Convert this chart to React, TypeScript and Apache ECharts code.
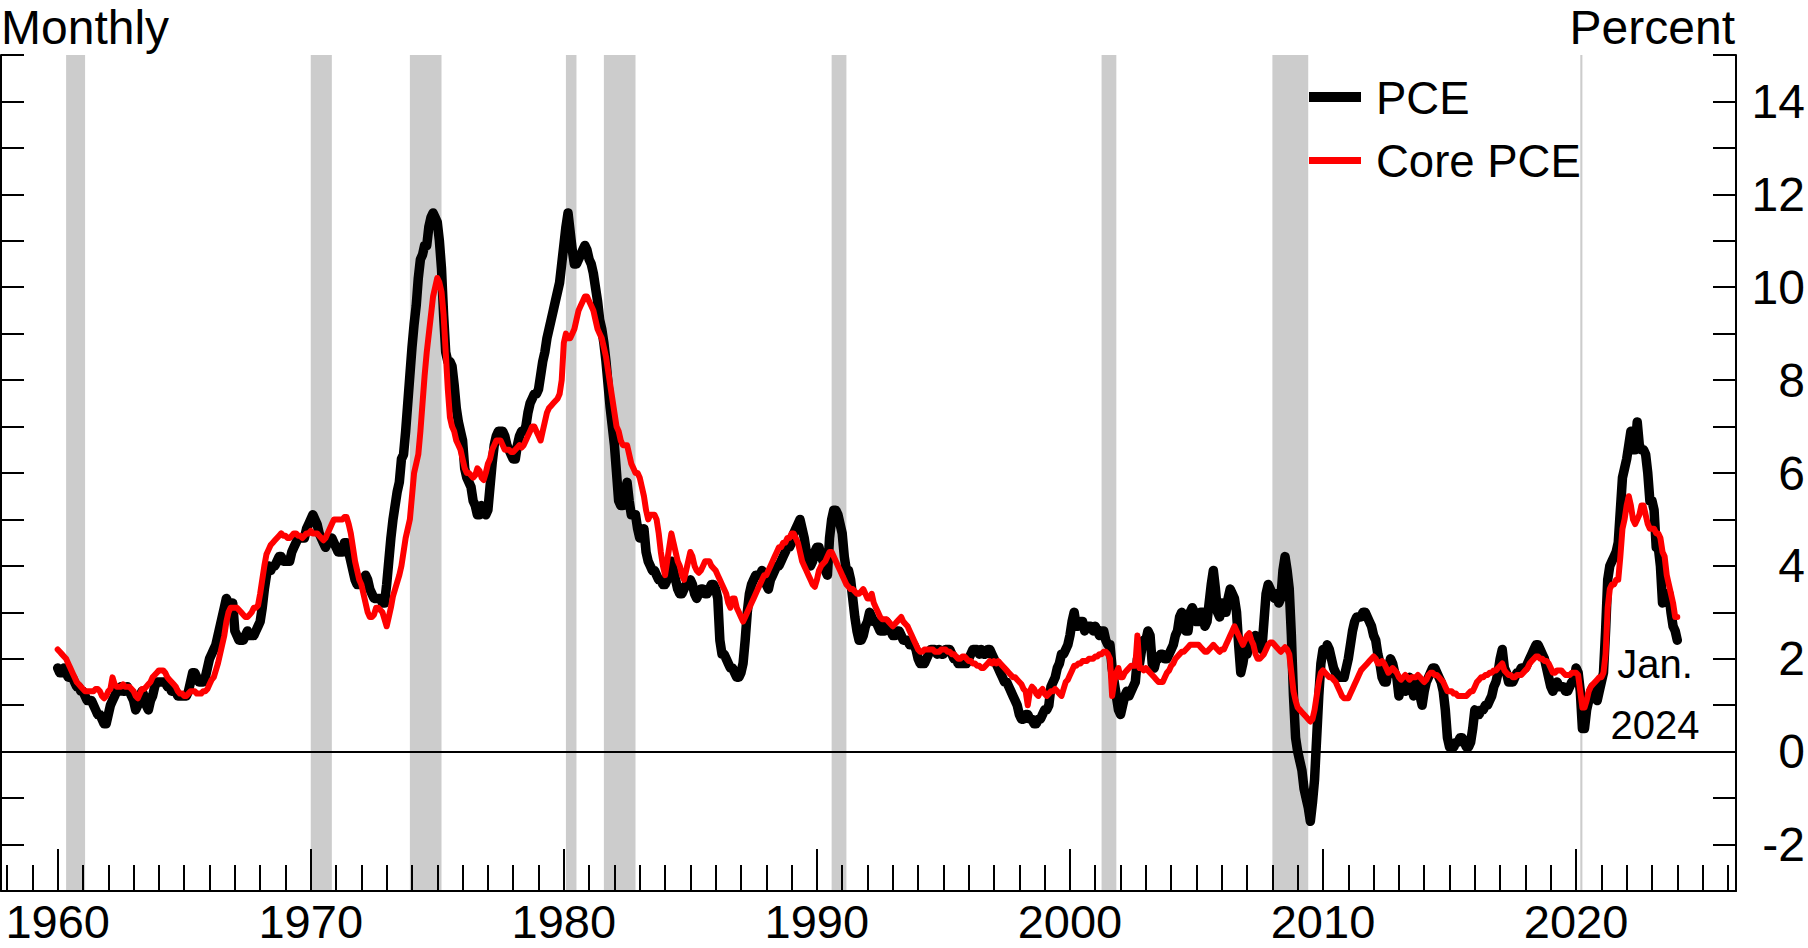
import React, { useEffect, useRef } from 'react';
import * as echarts from 'echarts';

const FONT = "'Liberation Sans', Arial, Helvetica, sans-serif";

// ---- axis settings ----
const X_MIN = 1957.76;
const X_MAX = 2026.32;
const Y_MIN = -3;
const Y_MAX = 15;
const START_YEAR = 1960; // first monthly observation: Jan. 1960
const decadeTicks = [1960, 1970, 1980, 1990, 2000, 2010, 2020];
const yearTicks = Array.from({ length: 69 }, (_, i) => 1958 + i);
const rightLabels = [-2, 0, 2, 4, 6, 8, 10, 12, 14];

// ---- NBER recessions (shaded), decimal years ----
const recessions: [number, number][] = [
  [1960.333, 1961.083],
  [1970.0, 1970.833],
  [1973.917, 1975.167],
  [1980.083, 1980.5],
  [1981.583, 1982.833],
  [1990.583, 1991.167],
  [2001.25, 2001.833],
  [2008.0, 2009.417],
  [2020.167, 2020.25],
];

// ---- PCE price index, 12-month percent change, monthly Jan. 1960 - Jan. 2024 ----
const pce: number[] = [
  1.8, 1.7, 1.7, 1.8, 1.7, 1.6, 1.6, 1.6, 1.5, 1.4, 1.4, 1.3, // 1960
  1.3, 1.2, 1.1, 1.1, 1.1, 1.0, 0.9, 0.8, 0.8, 0.7, 0.6, 0.6, // 1961
  0.8, 1.0, 1.1, 1.2, 1.3, 1.3, 1.4, 1.3, 1.3, 1.4, 1.3, 1.2, // 1962
  1.1, 0.9, 1.0, 1.2, 1.3, 1.2, 1.0, 0.9, 1.1, 1.2, 1.4, 1.5, // 1963
  1.5, 1.5, 1.5, 1.5, 1.4, 1.4, 1.3, 1.3, 1.3, 1.2, 1.2, 1.2, // 1964
  1.2, 1.2, 1.3, 1.5, 1.7, 1.7, 1.6, 1.5, 1.5, 1.5, 1.6, 1.8, // 1965
  2.0, 2.1, 2.2, 2.3, 2.5, 2.7, 2.9, 3.1, 3.3, 3.2, 3.1, 3.2, // 1966
  2.6, 2.5, 2.4, 2.4, 2.4, 2.5, 2.6, 2.5, 2.5, 2.5, 2.6, 2.7, // 1967
  2.8, 3.1, 3.5, 3.8, 4.0, 3.9, 4.0, 4.0, 4.1, 4.2, 4.2, 4.1, // 1968
  4.1, 4.1, 4.1, 4.3, 4.4, 4.5, 4.6, 4.6, 4.6, 4.6, 4.8, 4.9, // 1969
  5.0, 5.1, 5.0, 4.9, 4.7, 4.6, 4.5, 4.4, 4.5, 4.5, 4.6, 4.5, // 1970
  4.4, 4.3, 4.3, 4.3, 4.5, 4.5, 4.3, 4.1, 3.9, 3.7, 3.6, 3.6, // 1971
  3.7, 3.7, 3.8, 3.7, 3.5, 3.4, 3.3, 3.3, 3.3, 3.3, 3.2, 3.2, // 1972
  3.6, 4.1, 4.6, 5.0, 5.3, 5.6, 5.8, 6.3, 6.4, 6.9, 7.5, 8.1, // 1973
  8.7, 9.2, 9.6, 10.2, 10.6, 10.7, 10.9, 10.9, 11.3, 11.5, 11.6, 11.5, // 1974
  11.4, 11.0, 10.4, 9.4, 8.6, 8.4, 8.4, 8.3, 7.9, 7.4, 7.1, 6.9, // 1975
  6.7, 6.1, 5.9, 5.8, 5.7, 5.4, 5.3, 5.1, 5.1, 5.3, 5.2, 5.1, // 1976
  5.2, 5.7, 6.2, 6.6, 6.8, 6.9, 6.9, 6.9, 6.8, 6.6, 6.5, 6.4, // 1977
  6.3, 6.3, 6.6, 6.8, 6.9, 6.9, 7.0, 7.3, 7.5, 7.6, 7.7, 7.7, // 1978
  7.8, 8.1, 8.4, 8.6, 8.9, 9.1, 9.3, 9.5, 9.7, 9.9, 10.1, 10.5, // 1979
  10.9, 11.3, 11.6, 11.2, 10.8, 10.5, 10.5, 10.6, 10.7, 10.8, 10.9, 10.8, // 1980
  10.6, 10.5, 10.3, 10.0, 9.7, 9.3, 9.1, 8.8, 8.4, 7.9, 7.4, 7.0, // 1981
  6.6, 6.0, 5.4, 5.3, 5.3, 5.6, 5.8, 5.4, 5.1, 5.1, 5.1, 4.8, // 1982
  4.6, 4.7, 4.8, 4.3, 4.1, 4.0, 3.9, 3.9, 3.8, 3.7, 3.7, 3.6, // 1983
  3.6, 3.7, 3.9, 4.1, 3.9, 3.7, 3.5, 3.4, 3.4, 3.5, 3.6, 3.6, // 1984
  3.7, 3.6, 3.4, 3.3, 3.4, 3.5, 3.5, 3.4, 3.4, 3.5, 3.6, 3.6, // 1985
  3.5, 3.3, 2.4, 2.1, 2.1, 2.0, 1.9, 1.8, 1.8, 1.7, 1.6, 1.6, // 1986
  1.7, 1.9, 2.4, 3.0, 3.4, 3.6, 3.7, 3.8, 3.8, 3.8, 3.9, 3.8, // 1987
  3.6, 3.5, 3.7, 3.8, 3.9, 4.0, 4.0, 4.1, 4.2, 4.3, 4.4, 4.4, // 1988
  4.5, 4.7, 4.8, 4.9, 5.0, 4.8, 4.6, 4.3, 4.1, 4.0, 4.1, 4.3, // 1989
  4.4, 4.4, 4.2, 4.1, 3.9, 3.8, 4.6, 5.0, 5.2, 5.2, 5.1, 4.9, // 1990
  4.7, 4.2, 3.9, 3.9, 3.7, 3.3, 2.9, 2.6, 2.4, 2.4, 2.5, 2.7, // 1991
  2.8, 3.0, 2.9, 2.8, 2.8, 2.7, 2.6, 2.6, 2.6, 2.8, 2.7, 2.6, // 1992
  2.5, 2.5, 2.6, 2.6, 2.5, 2.4, 2.4, 2.4, 2.3, 2.3, 2.3, 2.2, // 1993
  2.0, 1.9, 1.9, 1.9, 2.0, 2.1, 2.2, 2.2, 2.2, 2.1, 2.2, 2.1, // 1994
  2.1, 2.2, 2.2, 2.2, 2.1, 2.0, 2.0, 1.9, 1.9, 1.9, 1.9, 1.9, // 1995
  2.0, 2.1, 2.2, 2.2, 2.2, 2.1, 2.2, 2.1, 2.1, 2.2, 2.2, 2.1, // 1996
  2.0, 1.9, 1.8, 1.7, 1.6, 1.5, 1.5, 1.4, 1.3, 1.2, 1.1, 1.0, // 1997
  0.8, 0.7, 0.7, 0.8, 0.8, 0.7, 0.7, 0.6, 0.6, 0.7, 0.7, 0.8, // 1998
  0.9, 0.9, 1.0, 1.4, 1.5, 1.6, 1.8, 1.9, 2.1, 2.1, 2.2, 2.3, // 1999
  2.5, 2.8, 3.0, 2.7, 2.7, 2.8, 2.8, 2.6, 2.7, 2.7, 2.7, 2.6, // 2000
  2.7, 2.6, 2.5, 2.6, 2.6, 2.4, 2.3, 2.3, 1.8, 1.5, 1.2, 0.9, // 2001
  0.8, 1.0, 1.2, 1.3, 1.2, 1.3, 1.4, 1.5, 2.0, 1.9, 2.2, 2.4, // 2002
  2.4, 2.6, 2.5, 1.9, 1.8, 2.0, 2.0, 2.1, 2.1, 2.0, 2.0, 2.1, // 2003
  2.2, 2.3, 2.5, 2.6, 2.9, 3.0, 2.8, 2.6, 2.6, 3.0, 3.1, 3.0, // 2004
  2.8, 2.8, 3.0, 3.0, 2.7, 2.8, 3.2, 3.6, 3.9, 3.5, 3.0, 2.9, // 2005
  3.2, 3.0, 3.0, 3.3, 3.5, 3.4, 3.3, 3.0, 2.3, 1.7, 1.9, 2.2, // 2006
  2.1, 2.3, 2.3, 2.4, 2.5, 2.4, 2.3, 2.2, 2.8, 3.4, 3.6, 3.5, // 2007
  3.4, 3.3, 3.4, 3.2, 3.3, 3.9, 4.2, 3.9, 3.5, 2.5, 1.2, 0.3, // 2008
  0.0, -0.2, -0.4, -0.8, -1.0, -1.2, -1.5, -1.1, -0.6, 0.3, 1.2, 1.9, // 2009
  2.2, 2.1, 2.3, 2.2, 2.0, 1.8, 1.7, 1.6, 1.6, 1.6, 1.6, 1.8, // 2010
  2.0, 2.3, 2.6, 2.8, 2.9, 2.9, 2.9, 3.0, 3.0, 2.9, 2.8, 2.7, // 2011
  2.5, 2.4, 2.1, 1.9, 1.6, 1.5, 1.5, 1.8, 2.0, 1.9, 1.7, 1.6, // 2012
  1.2, 1.4, 1.5, 1.3, 1.5, 1.6, 1.4, 1.2, 1.4, 1.5, 1.2, 1.0, // 2013
  1.3, 1.5, 1.6, 1.7, 1.8, 1.8, 1.7, 1.6, 1.5, 1.3, 0.9, 0.3, // 2014
  0.1, 0.1, 0.1, 0.2, 0.2, 0.3, 0.3, 0.2, 0.1, 0.1, 0.2, 0.5, // 2015
  0.9, 0.8, 0.8, 0.9, 0.9, 1.0, 1.0, 1.1, 1.2, 1.4, 1.5, 1.7, // 2016
  2.0, 2.2, 1.8, 1.7, 1.5, 1.5, 1.5, 1.6, 1.7, 1.7, 1.8, 1.8, // 2017
  1.8, 1.9, 2.0, 2.1, 2.2, 2.3, 2.3, 2.2, 2.1, 2.0, 1.8, 1.6, // 2018
  1.4, 1.3, 1.4, 1.5, 1.4, 1.4, 1.4, 1.3, 1.3, 1.4, 1.5, 1.5, // 2019
  1.8, 1.7, 1.3, 0.5, 0.5, 0.9, 1.1, 1.3, 1.4, 1.2, 1.1, 1.3, // 2020
  1.5, 1.7, 2.6, 3.7, 4.0, 4.1, 4.2, 4.3, 4.5, 5.2, 5.9, 6.1, // 2021
  6.3, 6.6, 6.9, 6.5, 6.5, 7.1, 6.6, 6.5, 6.5, 6.4, 6.0, 5.4, // 2022
  5.4, 5.2, 4.4, 4.4, 4.0, 3.2, 3.3, 3.4, 3.4, 3.0, 2.7, 2.6, // 2023
  2.4, // 2024
];

// ---- Core PCE (excluding food and energy), 12-month percent change ----
const corePce: number[] = [
  2.2, 2.15, 2.1, 2.05, 2.0, 1.9, 1.8, 1.7, 1.6, 1.5, 1.45, 1.4, // 1960
  1.35, 1.3, 1.3, 1.3, 1.3, 1.3, 1.35, 1.35, 1.3, 1.2, 1.15, 1.2, // 1961
  1.3, 1.35, 1.6, 1.45, 1.4, 1.4, 1.4, 1.45, 1.4, 1.4, 1.4, 1.35, // 1962
  1.3, 1.2, 1.15, 1.25, 1.35, 1.35, 1.4, 1.45, 1.5, 1.6, 1.65, 1.7, // 1963
  1.75, 1.75, 1.75, 1.7, 1.6, 1.55, 1.5, 1.45, 1.4, 1.3, 1.25, 1.25, // 1964
  1.2, 1.2, 1.25, 1.3, 1.3, 1.3, 1.25, 1.25, 1.25, 1.3, 1.3, 1.35, // 1965
  1.45, 1.55, 1.6, 1.75, 1.9, 2.1, 2.3, 2.5, 2.8, 3.0, 3.1, 3.1, // 1966
  3.1, 3.1, 3.05, 3.0, 2.95, 2.9, 2.9, 2.95, 3.0, 3.1, 3.1, 3.15, // 1967
  3.4, 3.7, 4.0, 4.25, 4.35, 4.45, 4.5, 4.55, 4.6, 4.65, 4.7, 4.65, // 1968
  4.65, 4.6, 4.6, 4.65, 4.7, 4.7, 4.65, 4.65, 4.6, 4.65, 4.7, 4.7, // 1969
  4.75, 4.7, 4.7, 4.7, 4.65, 4.6, 4.55, 4.6, 4.7, 4.8, 4.9, 5.0, // 1970
  5.0, 5.0, 5.0, 5.0, 5.05, 5.05, 4.9, 4.7, 4.4, 4.1, 3.9, 3.7, // 1971
  3.6, 3.4, 3.2, 3.0, 2.9, 2.9, 2.95, 3.1, 3.1, 3.05, 3.0, 2.85, // 1972
  2.7, 2.9, 3.1, 3.35, 3.5, 3.65, 3.8, 4.0, 4.3, 4.6, 4.8, 5.0, // 1973
  5.5, 6.0, 6.2, 6.4, 6.9, 7.5, 8.1, 8.6, 9.0, 9.4, 9.8, 10.0, // 1974
  10.2, 10.1, 9.9, 9.4, 8.6, 7.8, 7.2, 7.0, 6.9, 6.7, 6.6, 6.5, // 1975
  6.3, 6.1, 6.0, 6.0, 5.95, 5.9, 5.95, 6.1, 6.05, 5.9, 5.85, 6.0, // 1976
  6.2, 6.3, 6.5, 6.6, 6.7, 6.7, 6.7, 6.6, 6.5, 6.5, 6.5, 6.45, // 1977
  6.45, 6.5, 6.55, 6.6, 6.55, 6.6, 6.7, 6.8, 6.9, 7.0, 7.0, 6.9, // 1978
  6.8, 6.7, 6.9, 7.1, 7.3, 7.4, 7.45, 7.5, 7.55, 7.6, 7.7, 8.0, // 1979
  8.8, 9.0, 8.9, 8.9, 9.0, 9.1, 9.3, 9.5, 9.6, 9.7, 9.8, 9.8, // 1980
  9.7, 9.6, 9.5, 9.3, 9.1, 9.0, 8.9, 8.7, 8.5, 8.2, 7.9, 7.6, // 1981
  7.3, 7.0, 6.9, 6.7, 6.6, 6.6, 6.6, 6.4, 6.2, 6.1, 6.0, 6.0, // 1982
  5.9, 5.7, 5.5, 5.2, 5.0, 5.1, 5.1, 5.1, 5.0, 4.7, 4.3, 4.0, // 1983
  3.8, 4.1, 4.4, 4.7, 4.5, 4.3, 4.1, 4.0, 3.8, 3.7, 3.9, 4.1, // 1984
  4.3, 4.2, 4.0, 3.9, 3.85, 3.9, 4.0, 4.1, 4.1, 4.1, 4.0, 3.95, // 1985
  3.9, 3.8, 3.7, 3.6, 3.5, 3.4, 3.2, 3.1, 3.3, 3.3, 3.1, 3.0, // 1986
  2.9, 2.8, 2.9, 3.0, 3.1, 3.2, 3.3, 3.4, 3.5, 3.6, 3.7, 3.8, // 1987
  3.8, 3.9, 4.0, 4.1, 4.2, 4.3, 4.4, 4.4, 4.5, 4.5, 4.6, 4.6, // 1988
  4.7, 4.7, 4.6, 4.5, 4.3, 4.1, 4.0, 3.9, 3.8, 3.7, 3.6, 3.55, // 1989
  3.7, 3.9, 4.0, 4.05, 4.1, 4.2, 4.3, 4.3, 4.2, 4.1, 4.0, 3.9, // 1990
  3.8, 3.7, 3.6, 3.55, 3.5, 3.5, 3.45, 3.4, 3.4, 3.45, 3.5, 3.4, // 1991
  3.3, 3.3, 3.4, 3.2, 3.1, 3.0, 2.9, 2.85, 2.85, 2.85, 2.8, 2.75, // 1992
  2.7, 2.75, 2.8, 2.85, 2.9, 2.8, 2.75, 2.7, 2.6, 2.5, 2.4, 2.3, // 1993
  2.2, 2.15, 2.15, 2.2, 2.2, 2.2, 2.2, 2.2, 2.15, 2.15, 2.15, 2.2, // 1994
  2.2, 2.2, 2.15, 2.15, 2.1, 2.1, 2.05, 2.0, 2.0, 2.05, 2.05, 2.0, // 1995
  1.95, 1.95, 1.9, 1.9, 1.85, 1.85, 1.8, 1.8, 1.85, 1.9, 1.95, 1.9, // 1996
  1.95, 1.9, 1.95, 1.9, 1.85, 1.8, 1.75, 1.7, 1.65, 1.6, 1.6, 1.55, // 1997
  1.5, 1.45, 1.35, 1.3, 1.0, 1.3, 1.4, 1.35, 1.25, 1.2, 1.3, 1.35, // 1998
  1.25, 1.2, 1.25, 1.3, 1.3, 1.35, 1.3, 1.25, 1.2, 1.35, 1.5, 1.55, // 1999
  1.65, 1.75, 1.85, 1.85, 1.9, 1.9, 1.95, 1.95, 1.95, 2.0, 2.0, 2.0, // 2000
  2.05, 2.05, 2.1, 2.1, 2.15, 2.15, 2.1, 2.0, 1.2, 1.5, 1.7, 1.8, // 2001
  1.6, 1.6, 1.7, 1.75, 1.8, 1.85, 1.85, 1.85, 2.5, 1.8, 1.8, 1.75, // 2002
  1.8, 1.75, 1.7, 1.65, 1.6, 1.55, 1.5, 1.5, 1.5, 1.6, 1.7, 1.75, // 2003
  1.85, 1.9, 2.0, 2.05, 2.1, 2.15, 2.15, 2.2, 2.25, 2.3, 2.3, 2.3, // 2004
  2.3, 2.3, 2.25, 2.2, 2.15, 2.15, 2.2, 2.25, 2.3, 2.25, 2.2, 2.15, // 2005
  2.2, 2.2, 2.3, 2.4, 2.5, 2.6, 2.7, 2.6, 2.5, 2.4, 2.3, 2.4, // 2006
  2.5, 2.55, 2.4, 2.3, 2.1, 2.0, 2.0, 2.05, 2.1, 2.2, 2.3, 2.35, // 2007
  2.35, 2.3, 2.25, 2.2, 2.15, 2.2, 2.25, 2.2, 2.1, 1.7, 1.3, 1.1, // 2008
  0.95, 0.9, 0.85, 0.8, 0.75, 0.7, 0.65, 0.7, 0.9, 1.2, 1.5, 1.7, // 2009
  1.75, 1.7, 1.65, 1.6, 1.6, 1.55, 1.5, 1.4, 1.3, 1.2, 1.15, 1.15, // 2010
  1.15, 1.25, 1.35, 1.45, 1.55, 1.65, 1.75, 1.8, 1.85, 1.9, 1.95, 2.0, // 2011
  2.05, 2.0, 1.9, 1.9, 1.95, 1.9, 1.8, 1.7, 1.75, 1.8, 1.75, 1.7, // 2012
  1.6, 1.55, 1.6, 1.65, 1.6, 1.55, 1.6, 1.6, 1.6, 1.65, 1.6, 1.55, // 2013
  1.5, 1.55, 1.65, 1.7, 1.7, 1.65, 1.65, 1.6, 1.55, 1.5, 1.4, 1.3, // 2014
  1.3, 1.3, 1.25, 1.25, 1.2, 1.2, 1.2, 1.2, 1.2, 1.25, 1.3, 1.3, // 2015
  1.4, 1.5, 1.55, 1.6, 1.6, 1.65, 1.65, 1.7, 1.7, 1.75, 1.75, 1.8, // 2016
  1.85, 1.9, 1.75, 1.7, 1.65, 1.65, 1.6, 1.6, 1.65, 1.65, 1.65, 1.7, // 2017
  1.75, 1.8, 1.9, 1.95, 2.0, 2.05, 2.05, 2.0, 2.0, 1.95, 1.95, 1.9, // 2018
  1.8, 1.7, 1.7, 1.75, 1.75, 1.75, 1.7, 1.65, 1.65, 1.65, 1.7, 1.7, // 2019
  1.7, 1.65, 1.3, 0.95, 0.95, 1.1, 1.3, 1.4, 1.45, 1.5, 1.55, 1.6, // 2020
  1.6, 1.7, 2.1, 3.1, 3.5, 3.6, 3.6, 3.7, 3.7, 4.2, 4.8, 5.0, // 2021
  5.3, 5.5, 5.3, 5.0, 4.9, 5.0, 5.1, 5.3, 5.3, 5.1, 4.9, 4.8, // 2022
  4.8, 4.8, 4.7, 4.7, 4.6, 4.3, 4.2, 3.8, 3.6, 3.4, 3.2, 2.9, // 2023
  2.9, // 2024
];

const toPoints = (vals: number[]) => vals.map((v, i) => [START_YEAR + i / 12, v]);

const txt = (text: string, x: number, y: number, size: number, align: string) => ({
  type: 'text',
  x,
  y,
  z: 100,
  silent: true,
  style: {
    text,
    fill: '#000',
    font: `${size}px ${FONT}`,
    fontSize: size,
    fontFamily: FONT,
    textAlign: align,
    align,
    textVerticalAlign: 'middle',
    verticalAlign: 'middle',
  },
});

export default function App() {
  const ref = useRef<HTMLDivElement>(null);
  useEffect(() => {
    if (!ref.current) return;
    const chart = echarts.init(ref.current, undefined, { renderer: 'svg' });
    const axisLineStyle = { color: '#000', width: 2 };
    const option: any = {
      animation: false,
      backgroundColor: '#fff',
      grid: { left: 1, right: 72, top: 55, bottom: 57, containLabel: false },
      xAxis: [
        {
          type: 'value', min: X_MIN, max: X_MAX, position: 'bottom', z: 10,
          axisLine: { show: true, onZero: false, lineStyle: axisLineStyle },
          axisTick: { show: true, inside: true, length: 42, customValues: decadeTicks, lineStyle: axisLineStyle },
          axisLabel: {
            show: true, customValues: decadeTicks, fontSize: 47, lineHeight: 40, fontFamily: FONT, color: '#000', margin: 10,
            formatter: (v: number) => String(Math.round(v)),
          },
          splitLine: { show: false },
        },
        {
          type: 'value', min: X_MIN, max: X_MAX, position: 'bottom', z: 10,
          axisLine: { show: false, onZero: false },
          axisTick: { show: true, inside: true, length: 26, customValues: yearTicks, lineStyle: axisLineStyle },
          axisLabel: { show: false },
          splitLine: { show: false },
        },
      ],
      yAxis: [
        {
          type: 'value', min: Y_MIN, max: Y_MAX, interval: 1, position: 'left', z: 10,
          axisLine: { show: true, onZero: false, lineStyle: axisLineStyle },
          axisTick: { show: true, inside: true, length: 23, lineStyle: axisLineStyle },
          axisLabel: { show: false },
          splitLine: { show: false },
        },
        {
          type: 'value', min: Y_MIN, max: Y_MAX, interval: 1, position: 'right', z: 10,
          axisLine: { show: true, onZero: false, lineStyle: axisLineStyle },
          axisTick: { show: true, inside: true, length: 23, lineStyle: axisLineStyle },
          axisLabel: {
            show: true, customValues: rightLabels, align: 'right', margin: 69,
            fontSize: 48, fontFamily: FONT, color: '#000',
            formatter: (v: number) => String(Math.round(v)),
          },
          splitLine: { show: false },
        },
      ],
      series: [
        {
          type: 'line', data: [], z: 1, silent: true, xAxisIndex: 0, yAxisIndex: 0,
          markLine: {
            silent: true, symbol: ['none', 'none'], label: { show: false },
            lineStyle: { color: '#000', width: 2, type: 'solid' },
            emphasis: { disabled: true },
            data: [{ yAxis: 0 }],
          },
        },
        {
          type: 'line', data: [], z: 2, silent: true, xAxisIndex: 0, yAxisIndex: 0,
          markArea: {
            silent: true,
            itemStyle: { color: '#cccccc', opacity: 1 },
            emphasis: { disabled: true },
            data: recessions.map(([a, b]) => [{ xAxis: a }, { xAxis: b }]),
          },
        },
        {
          name: 'PCE', type: 'line', data: toPoints(pce), z: 3, xAxisIndex: 0, yAxisIndex: 0,
          symbol: 'none', showSymbol: false, silent: true,
          lineStyle: { color: '#000', width: 9.5, join: 'round', cap: 'round' },
          emphasis: { disabled: true },
        },
        {
          name: 'Core PCE', type: 'line', data: toPoints(corePce), z: 4, xAxisIndex: 0, yAxisIndex: 0,
          symbol: 'none', showSymbol: false, silent: true,
          lineStyle: { color: '#ff0000', width: 6, join: 'round', cap: 'round' },
          emphasis: { disabled: true },
        },
      ],
      graphic: [
        txt('Monthly', 1, 27, 48, 'left'),
        txt('Percent', 1735, 27, 48, 'right'),
        {
          type: 'line', z: 100, silent: true,
          shape: { x1: 1309, y1: 97, x2: 1361, y2: 97 },
          style: { stroke: '#000', lineWidth: 10 },
        },
        {
          type: 'line', z: 100, silent: true,
          shape: { x1: 1309, y1: 160.5, x2: 1361, y2: 160.5 },
          style: { stroke: '#ff0000', lineWidth: 7 },
        },
        txt('PCE', 1376, 98, 45.5, 'left'),
        txt('Core PCE', 1376, 161, 45.5, 'left'),
        txt('Jan.', 1655, 664, 40, 'center'),
        txt('2024', 1655, 725, 40, 'center'),
      ],
    };
    chart.setOption(option);
    return () => chart.dispose();
  }, []);
  return (
    <div
      ref={ref}
      style={{ position: 'absolute', left: 0, top: 0, width: 1808, height: 948, background: '#fff' }}
    />
  );
}
